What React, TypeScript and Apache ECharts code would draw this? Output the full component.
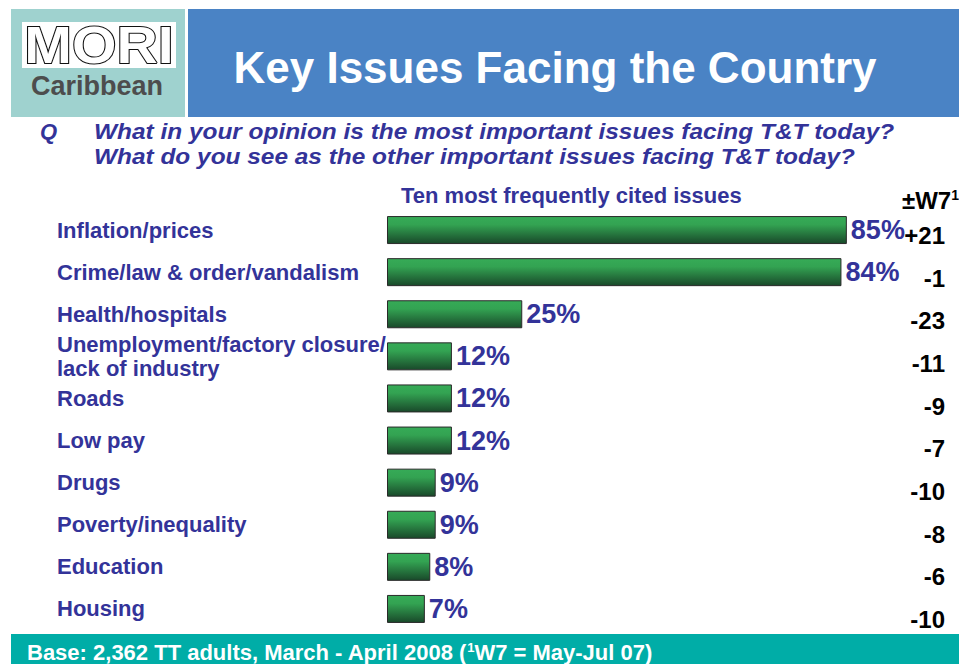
import React, { useEffect, useRef } from "react";
import * as echarts from "echarts";

const categories = [
  "Inflation/prices",
  "Crime/law & order/vandalism",
  "Health/hospitals",
  "Unemployment/factory closure/\nlack of industry",
  "Roads",
  "Low pay",
  "Drugs",
  "Poverty/inequality",
  "Education",
  "Housing",
];
const values = [85, 84, 25, 12, 12, 12, 9, 9, 8, 7];
const changes = ["+21", "-1", "-23", "-11", "-9", "-7", "-10", "-8", "-6", "-10"];

const FONT = "'Liberation Sans', Arial, sans-serif";
const NAVY = "#333399";

export default function App() {
  const ref = useRef<HTMLDivElement>(null);
  useEffect(() => {
    document.body.style.margin = "0";
    if (!ref.current) return;
    const chart = echarts.init(ref.current, undefined, { renderer: "svg" });
    chart.setOption({
      animation: false,
      backgroundColor: "#ffffff",
      textStyle: { fontFamily: FONT },
      grid: [
        { left: 387, width: 541, top: 209, height: 421 },
        { left: 0, right: 14, top: 214, height: 427 },
      ],
      xAxis: [
        { type: "value", gridIndex: 0, min: 0, max: 100, show: false },
        { type: "value", gridIndex: 1, min: 0, max: 100, show: false },
      ],
      yAxis: [
        {
          type: "category",
          gridIndex: 0,
          inverse: true,
          data: categories,
          axisLine: { show: false },
          axisTick: { show: false },
          splitLine: { show: false },
          axisLabel: {
            align: "left",
            margin: 330,
            fontFamily: FONT,
            fontSize: 22,
            fontWeight: "bold",
            color: NAVY,
            lineHeight: 24,
          },
        },
        {
          type: "category",
          gridIndex: 1,
          position: "right",
          inverse: true,
          data: changes,
          axisLine: { show: false },
          axisTick: { show: false },
          splitLine: { show: false },
          axisLabel: {
            align: "right",
            margin: 0,
            fontFamily: FONT,
            fontSize: 24,
            fontWeight: "bold",
            color: "#000000",
          },
        },
      ],
      series: [
        {
          type: "bar",
          xAxisIndex: 0,
          yAxisIndex: 0,
          data: values,
          barWidth: 28,
          itemStyle: {
            color: new echarts.graphic.LinearGradient(0, 0, 0, 1, [
              { offset: 0, color: "#36ab57" },
              { offset: 0.3, color: "#33a352" },
              { offset: 1, color: "#19492a" },
            ]),
            borderColor: "#2a2a2a",
            borderWidth: 1,
          },
          label: {
            show: true,
            position: "right",
            distance: 4,
            formatter: "{c}%",
            fontFamily: FONT,
            fontSize: 27,
            fontWeight: "bold",
            color: NAVY,
          },
        },
      ],
      graphic: [
        { type: "rect", shape: { x: 11, y: 9, width: 174, height: 108 }, style: { fill: "#9fd2cf" } },
        { type: "rect", shape: { x: 188, y: 9, width: 771, height: 108 }, style: { fill: "#4a83c5" } },
        { type: "rect", shape: { x: 22, y: 22, width: 154, height: 46 }, style: { fill: "#ffffff" } },
        {
          type: "text",
          x: 99,
          y: 45,
          scaleX: 1.1,
          style: {
            text: "MORI",
            fill: "#ffffff",
            stroke: "#111111",
            lineWidth: 2,
            font: `bold 52px ${FONT}`,
            lineHeight: 40,
            align: "center",
            verticalAlign: "middle",
          },
        },
        {
          type: "text",
          x: 97,
          y: 86,
          style: {
            text: "Caribbean",
            fill: "#4d4d4d",
            font: `bold 27px ${FONT}`,
            lineHeight: 27,
            align: "center",
            verticalAlign: "middle",
          },
        },
        {
          type: "text",
          x: 555,
          y: 67,
          style: {
            text: "Key Issues Facing the Country",
            fill: "#ffffff",
            font: `bold 44px ${FONT}`,
            align: "center",
            verticalAlign: "middle",
          },
        },
        {
          type: "text",
          x: 40,
          y: 131,
          style: { text: "Q", fill: NAVY, font: `italic bold 22px ${FONT}`, verticalAlign: "middle" },
        },
        {
          type: "text",
          x: 94,
          y: 131,
          scaleX: 1.11,
          style: {
            text: "What in your opinion is the most important issues facing T&T today?",
            fill: NAVY,
            font: `italic bold 22px ${FONT}`,
            verticalAlign: "middle",
          },
        },
        {
          type: "text",
          x: 94,
          y: 156,
          scaleX: 1.11,
          style: {
            text: "What do you see as the other important issues facing T&T today?",
            fill: NAVY,
            font: `italic bold 22px ${FONT}`,
            verticalAlign: "middle",
          },
        },
        {
          type: "text",
          x: 401,
          y: 195,
          style: {
            text: "Ten most frequently cited issues",
            fill: NAVY,
            font: `bold 22px ${FONT}`,
            verticalAlign: "middle",
          },
        },
        {
          type: "text",
          x: 902,
          y: 200,
          style: {
            text: "{u|±}{m|W7}{s|1}",
            verticalAlign: "middle",
            rich: {
              u: { fill: "#000000", font: `bold 24px ${FONT}` },
              m: { fill: "#000000", font: `bold 24px ${FONT}` },
              s: { fill: "#000000", font: `bold 14px ${FONT}`, verticalAlign: "top", padding: [0, 0, 10, 0] },
            },
          },
        },
        { type: "rect", shape: { x: 11, y: 634, width: 948, height: 30 }, style: { fill: "#00ada7" } },
        {
          type: "text",
          x: 27,
          y: 652,
          style: {
            text: "Base: 2,362 TT adults, March - April 2008 ({s|1}W7 = May-Jul 07)",
            fill: "#ffffff",
            font: `bold 22px ${FONT}`,
            verticalAlign: "middle",
            rich: {
              s: { fill: "#ffffff", font: `bold 13px ${FONT}`, verticalAlign: "top", padding: [0, 0, 9, 0] },
            },
          },
        },
      ],
    });
    return () => chart.dispose();
  }, []);
  return <div ref={ref} style={{ width: 959, height: 664 }} />;
}
